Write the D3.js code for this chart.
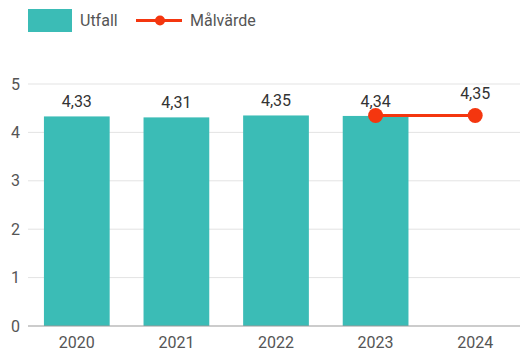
<!DOCTYPE html>
<html><head><meta charset="utf-8">
<script src="https://cdn.jsdelivr.net/npm/d3@7"></script>
<style>body{margin:0;background:#fff}svg{display:block;font-family:Roboto,sans-serif}</style>
</head><body><svg id="c" width="520" height="355"></svg>
<script>
const categories = ["2020","2021","2022","2023","2024"];
const utfall = [4.33, 4.31, 4.35, 4.34, null];
const malvarde = [null, null, null, 4.35, 4.35];
const yTicks = [0,1,2,3,4,5];
const fmt = v => d3.format(".2f")(v).replace(".", ",");

const svg = d3.select("#c");
const barColor = "#3bbcb6", lineColor = "#f4360f", textColor = "#555";
const fs = 16;
const x = d3.scaleBand().domain(categories).range([27, 525]).paddingInner(0.34).paddingOuter(0.17);
const y = d3.scaleLinear().domain([0,5]).range([326, 84]);

// grid
svg.append("g").selectAll("line").data(yTicks.filter(d=>d>0)).join("line")
  .attr("x1", 28).attr("x2", 520).attr("y1", d=>y(d)).attr("y2", d=>y(d))
  .attr("stroke", "#e3e3e3").attr("stroke-width", 1);
// y labels
svg.append("g").selectAll("text").data(yTicks).join("text")
  .attr("x", 20).attr("y", d=>y(d)).attr("dy", "0.35em").attr("text-anchor","end")
  .attr("font-size", fs).attr("fill", textColor).text(d=>d);

// bars
const bars = categories.map((c,i)=>({c, v: utfall[i]})).filter(d=>d.v!=null);
svg.append("g").selectAll("rect").data(bars).join("rect")
  .attr("x", d=>x(d.c)).attr("width", x.bandwidth())
  .attr("y", d=>y(d.v)).attr("height", d=>y(0)-y(d.v)).attr("fill", barColor);
svg.append("g").selectAll("text").data(bars).join("text")
  .attr("x", d=>x(d.c)+x.bandwidth()/2).attr("y", d=>y(d.v)-9)
  .attr("text-anchor","middle").attr("font-size", fs).attr("fill", "#333").text(d=>fmt(d.v));

// x axis
svg.append("line").attr("x1", 28).attr("x2", 520).attr("y1", y(0)).attr("y2", y(0))
  .attr("stroke", "#999").attr("stroke-width", 1);
svg.append("g").selectAll("text").data(categories).join("text")
  .attr("x", d=>x(d)+x.bandwidth()/2).attr("y", 348).attr("text-anchor","middle")
  .attr("font-size", fs).attr("fill", textColor).text(d=>d);

// line
const pts = categories.map((c,i)=>({c, v: malvarde[i]})).filter(d=>d.v!=null);
const line = d3.line().x(d=>x(d.c)+x.bandwidth()/2).y(d=>y(d.v));
svg.append("path").datum(pts).attr("d", line).attr("fill","none")
  .attr("stroke", lineColor).attr("stroke-width", 3);
svg.append("g").selectAll("circle").data(pts).join("circle")
  .attr("cx", d=>x(d.c)+x.bandwidth()/2).attr("cy", d=>y(d.v)).attr("r", 7.5).attr("fill", lineColor);
svg.append("g").selectAll("text").data(pts.slice(1)).join("text")
  .attr("x", d=>x(d.c)+x.bandwidth()/2).attr("y", d=>y(d.v)-16)
  .attr("text-anchor","middle").attr("font-size", fs).attr("fill", "#333").text(d=>fmt(d.v));

// legend
const lg = svg.append("g");
lg.append("rect").attr("x", 28).attr("y", 9).attr("width", 44).attr("height", 23).attr("fill", barColor);
lg.append("text").attr("x", 80).attr("y", 20.5).attr("dy","0.35em").attr("font-size", fs).attr("fill", textColor).text("Utfall");
lg.append("line").attr("x1", 136).attr("x2", 182).attr("y1", 20.5).attr("y2", 20.5).attr("stroke", lineColor).attr("stroke-width", 3);
lg.append("circle").attr("cx", 160).attr("cy", 20.5).attr("r", 5).attr("fill", lineColor);
lg.append("text").attr("x", 190).attr("y", 20.5).attr("dy","0.35em").attr("font-size", fs).attr("fill", textColor).text("Målvärde");
</script></body></html>
